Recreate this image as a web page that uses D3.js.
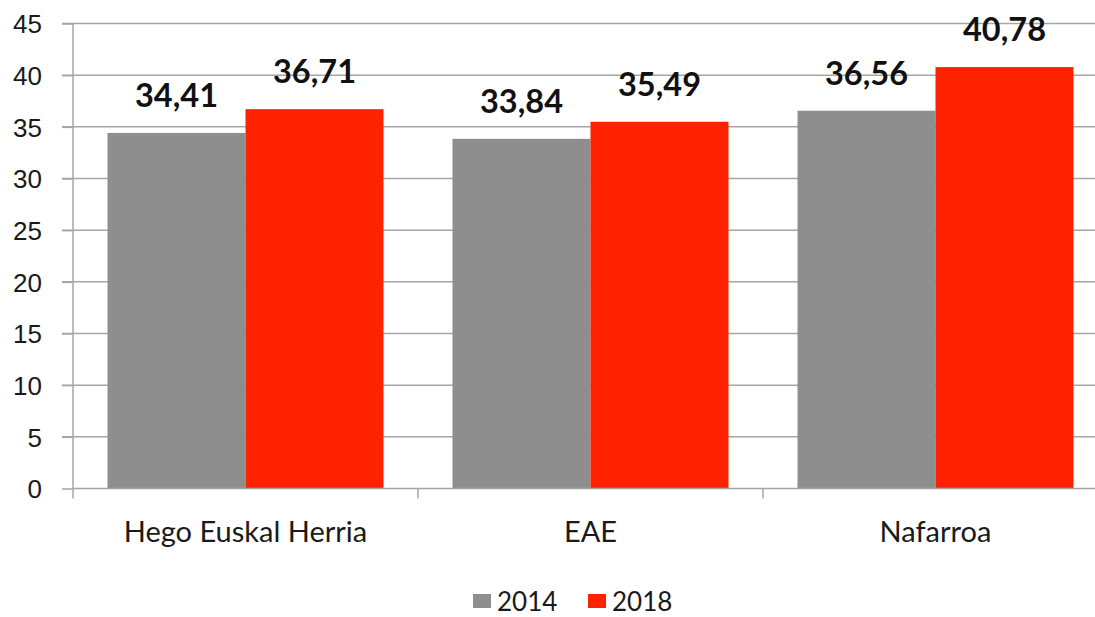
<!DOCTYPE html>
<html>
<head>
<meta charset="utf-8">
<script src="https://cdn.jsdelivr.net/npm/d3@7"></script>
<style>
  body { margin: 0; background: #fff; }
  svg { display: block; font-family: Lato, "Open Sans", sans-serif; }
</style>
</head>
<body>
<div id="chart"></div>
<script>
const categories = ["Hego Euskal Herria", "EAE", "Nafarroa"];
const years = ["2014", "2018"];
const values2014 = [34.41, 33.84, 36.56];
const values2018 = [36.71, 35.49, 40.78];
const yTicks = [0, 5, 10, 15, 20, 25, 30, 35, 40, 45];

const colors = { "2014": "#8e8e8e", "2018": "#ff2200" };

const margin = { top: 23.5, left: 73 },
    width = 1035,
    height = 465;

const data = categories.map((c, i) => ({
    cat: c,
    "2014": values2014[i],
    "2018": values2018[i]
}));

const svg = d3.select("#chart")
    .append("svg")
    .attr("width", 1095)
    .attr("height", 617);

const g = svg.append("g")
    .attr("transform", `translate(${margin.left},${margin.top})`);

const x = d3.scaleBand()
    .domain(categories)
    .range([0, width])
    .paddingInner(0.2)
    .paddingOuter(0.1);

const xSub = d3.scaleBand()
    .domain(years)
    .range([0, x.bandwidth()]);

const y = d3.scaleLinear()
    .domain([0, 45])
    .range([height, 0]);

// gridlines
g.append("g")
    .selectAll("line")
    .data(yTicks.filter(d => d > 0))
    .join("line")
    .attr("x1", -11)
    .attr("x2", width)
    .attr("y1", d => y(d))
    .attr("y2", d => y(d))
    .style("stroke", "#a6a6a6")
    .style("stroke-width", 1.5);

// y axis
const yAxis = g.append("g")
    .call(d3.axisLeft(y).tickValues(yTicks).tickSize(11).tickPadding(20));
yAxis.select(".domain").attr("d", `M0,${height + 10}V0`).style("stroke", "#a6a6a6").style("stroke-width", 1.5);
yAxis.selectAll(".tick line").style("stroke", "#a6a6a6").style("stroke-width", 1.5);
yAxis.selectAll(".tick text")
    .style("font-size", "26px")
    .style("fill", "#1a1a1a")
    .attr("dy", "0.36em");

// bars
const groups = g.append("g")
    .selectAll("g")
    .data(data)
    .join("g")
    .attr("transform", d => `translate(${x(d.cat)},0)`);

groups.selectAll("rect")
    .data(d => years.map(k => ({ key: k, value: d[k] })))
    .join("rect")
    .attr("x", d => xSub(d.key))
    .attr("y", d => y(d.value))
    .attr("width", xSub.bandwidth())
    .attr("height", d => height - y(d.value))
    .attr("fill", d => colors[d.key]);

groups.selectAll("text")
    .data(d => years.map(k => ({ key: k, value: d[k] })))
    .join("text")
    .attr("x", d => xSub(d.key) + xSub.bandwidth() / 2)
    .attr("y", d => y(d.value) - 26)
    .attr("text-anchor", "middle")
    .style("font-size", "32.5px")
    .style("font-weight", "bold")
    .style("fill", "#111")
    .text(d => d.value.toFixed(2).replace(".", ","));

// x axis
const xAxis = g.append("g")
    .attr("transform", `translate(0,${height})`);
xAxis.append("line")
    .attr("x1", 0).attr("x2", width)
    .style("stroke", "#a6a6a6").style("stroke-width", 1.5);
xAxis.selectAll(".sep")
    .data(categories.slice(1))
    .join("line")
    .attr("class", "sep")
    .attr("x1", d => x(d) - x.step() * 0.1)
    .attr("x2", d => x(d) - x.step() * 0.1)
    .attr("y1", 0).attr("y2", 10)
    .style("stroke", "#a6a6a6").style("stroke-width", 1.5);
xAxis.selectAll(".lbl")
    .data(categories)
    .join("text")
    .attr("class", "lbl")
    .attr("x", d => x(d) + x.bandwidth() / 2)
    .attr("y", 53)
    .attr("text-anchor", "middle")
    .style("font-size", "29px")
    .style("fill", "#1a1a1a")
    .text(d => d);

// legend
const legend = svg.append("g")
    .attr("transform", "translate(473,594)");
const legendX = [0, 115];
years.forEach((yr, i) => {
    const row = legend.append("g").attr("transform", `translate(${legendX[i]},0)`);
    row.append("rect")
        .attr("width", 18)
        .attr("height", 14)
        .attr("fill", colors[yr]);
    row.append("text")
        .attr("x", 24)
        .attr("y", 17)
        .style("font-size", "26px")
        .style("fill", "#1a1a1a")
        .text(yr);
});
</script>
</body>
</html>
